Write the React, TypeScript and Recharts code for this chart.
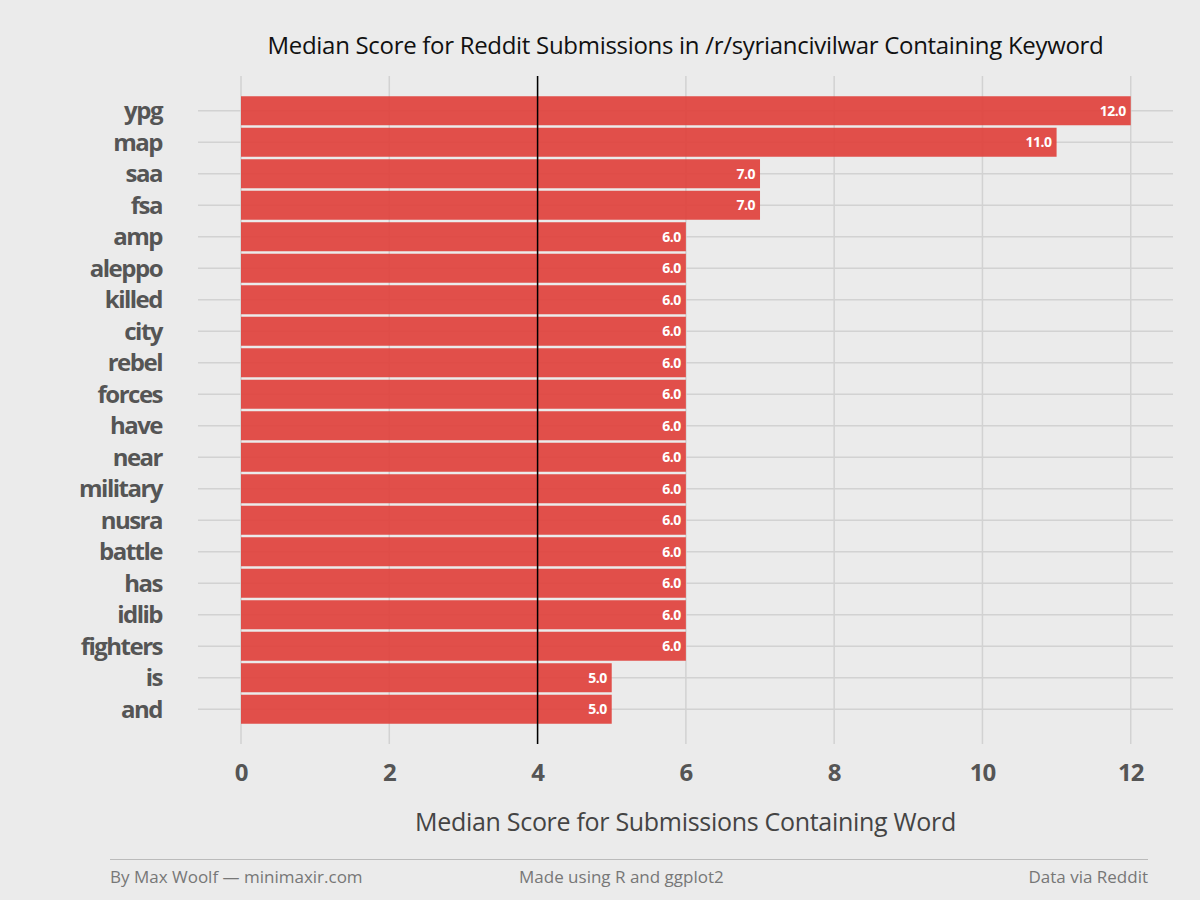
import { BarChart, Bar, XAxis, YAxis, CartesianGrid, ReferenceLine, LabelList } from "recharts";

const words = ["ypg", "map", "saa", "fsa", "amp", "aleppo", "killed", "city", "rebel", "forces", "have", "near", "military", "nusra", "battle", "has", "idlib", "fighters", "is", "and"];
const scores = [12, 11, 7, 7, 6, 6, 6, 6, 6, 6, 6, 6, 6, 6, 6, 6, 6, 6, 5, 5];
const xTicks = [0, 2, 4, 6, 8, 10, 12];

const data = words.map((w, i) => ({ word: w, score: scores[i] }));

const font = "'Open Sans', sans-serif";
const bodyFont = "'Open Sans', 'Noto Sans', sans-serif";

export default function App() {
  return (
    <div style={{ position: "absolute", left: 0, top: 0, width: 1200, height: 900, background: "#ebebeb", fontFamily: bodyFont }}>
      <div style={{ position: "absolute", top: 28, left: 198, width: 975, textAlign: "center", fontSize: 24, color: "#111", letterSpacing: -0.3 }}>
        Median Score for Reddit Submissions in /r/syriancivilwar Containing Keyword
      </div>
      <BarChart
        width={1200}
        height={900}
        data={data}
        layout="vertical"
        margin={{ top: 76, right: 27, bottom: 116, left: 0 }}
        barCategoryGap="4%"
      >
        <CartesianGrid stroke="#d2d2d2" strokeWidth={1.5} syncWithTicks verticalValues={xTicks} />
        <XAxis
          type="number"
          domain={[-0.58, 12.57]}
          ticks={xTicks}
          allowDataOverflow
          axisLine={false}
          tickLine={false}
          height={40}
          tick={{ fill: "#555", fontSize: 24, fontWeight: 700, fontFamily: font, letterSpacing: -1 }}
          tickMargin={14}
        />
        <YAxis
          type="category"
          dataKey="word"
          width={198}
          interval={0}
          axisLine={false}
          tickLine={false}
          padding={{ top: 19, bottom: 19 }}
          tick={{ fill: "#555", fontSize: 24, fontWeight: 700, fontFamily: font, letterSpacing: -1.5 }}
          tickMargin={30}
        />
        <Bar dataKey="score" fill="#e0413c" fillOpacity={0.92} isAnimationActive={false}>
          <LabelList
            dataKey="score"
            position="insideRight"
            formatter={(v: number) => v.toFixed(1)}
            style={{ fill: "#fff", fontSize: 14, fontWeight: 700, fontFamily: font, letterSpacing: -0.5 }}
          />
        </Bar>
        <ReferenceLine x={4} stroke="#000" strokeWidth={1.5} />
      </BarChart>
      <div style={{ position: "absolute", top: 804, left: 198, width: 975, textAlign: "center", fontSize: 25, color: "#444", letterSpacing: -0.3 }}>
        Median Score for Submissions Containing Word
      </div>
      <div style={{ position: "absolute", top: 859, left: 110, width: 1038, borderTop: "1px solid #bbb" }} />
      <div style={{ position: "absolute", top: 865, left: 110, fontSize: 17, color: "#777" }}>By Max Woolf — minimaxir.com</div>
      <div style={{ position: "absolute", top: 865, left: 519, fontSize: 17, color: "#777" }}>Made using R and ggplot2</div>
      <div style={{ position: "absolute", top: 865, right: 52, fontSize: 17, color: "#777" }}>Data via Reddit</div>
    </div>
  );
}
